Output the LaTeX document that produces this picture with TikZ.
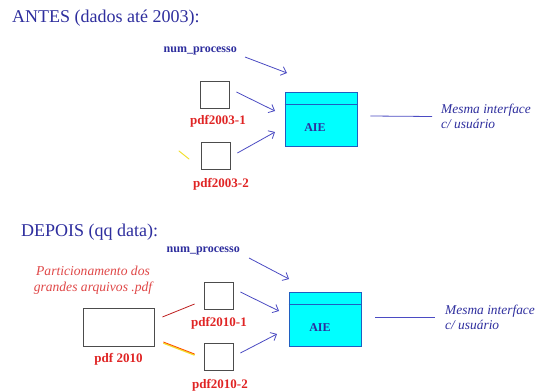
\documentclass[tikz,border=0pt]{standalone}
\usepackage{fontspec}
\setmainfont{Liberation Serif}
\usetikzlibrary{arrows.meta,calc}
\definecolor{ttl}{HTML}{2E2E9E}
\definecolor{arr}{HTML}{4B4BC3}
\definecolor{lbl}{HTML}{E02424}
\definecolor{redtxt}{HTML}{E04848}
\definecolor{aie}{HTML}{00FFFF}
\definecolor{aieline}{HTML}{1F5FC0}
\definecolor{hl}{HTML}{F2E030}
\begin{document}
\begin{tikzpicture}[x=1pt,y=-1pt,
  title/.style={font=\fontsize{18}{20}\selectfont, text=ttl, anchor=west, inner sep=0},
  proc/.style={font=\fontsize{12}{13}\selectfont\bfseries, text=ttl, inner sep=0},
  doc/.style={draw=black!70, line width=0.8pt, fill=white, minimum width=29pt, minimum height=27pt, inner sep=0},
  doclbl/.style={font=\fontsize{13}{14}\selectfont\bfseries, text=lbl, inner sep=0},
  flow/.style={draw=arr, line width=0.8pt, -{Straight Barb[length=5pt,width=9pt]}},
  link/.style={draw=arr, line width=0.8pt},
  aiebox/.style={draw=aieline, line width=0.9pt, fill=aie, minimum width=72pt, minimum height=54pt, inner sep=0},
  aietxt/.style={font=\fontsize{12}{13}\selectfont\bfseries, text=ttl, inner sep=0},
  note/.style={font=\fontsize{13.4}{15}\selectfont\itshape, text=ttl, align=left, anchor=west, inner sep=0},
  split/.style={draw=lbl!85!black, line width=0.8pt},
]
\useasboundingbox (0,0) rectangle (539,391);
\fill[white] (0,0) rectangle (539,391);

% ---------- before ----------
\node[title] (t1) at (12,18) {ANTES (dados até 2003):};
\node[proc, anchor=east] (np1) at (237,51) {num\_processo};
\node[doc] (a1) at (214.5,94.5) {};
\node[doclbl] (a1l) at (218,121) {pdf2003-1};
\node[doc] (a2) at (215.5,156) {};
\node[doclbl] (a2l) at (221,184) {pdf2003-2};
\node[aiebox] (aie1) at (321,119) {};
\draw[aieline, line width=0.9pt] ($(aie1.north west)+(0,13)$) -- ($(aie1.north east)+(0,13)$);
\node[aietxt] (aie1t) at (315,128) {AIE};
\node[note] (n1) at (441,116.5) {Mesma interface\\c/ usuário};

\coordinate (e1a) at (287,73);
\coordinate (e1b) at (275,111);
\coordinate (e1c) at (275,132);
\draw[flow] ($(np1.east)+(8,6)$) -- (e1a);
\draw[flow] ($(a1.east)+(7,-2.5)$) -- (e1b);
\draw[flow] ($(a2.east)+(7,-3)$) -- (e1c);
\draw[link] ($(aie1.east)+(13,-3)$) -- ($(n1.west)+(-9,0)$);
\draw[hl, line width=1pt, line cap=round] (179,151) -- (189,159);

% ---------- after ----------
\node[title] (t2) at (21,232) {DEPOIS (qq data):};
\node[proc, anchor=east] (np2) at (240,251) {num\_processo};
\node[font=\fontsize{13.6}{16}\selectfont\itshape, text=redtxt, align=center, inner sep=0] (part) at (93,280) {Particionamento dos\\grandes arquivos .pdf};
\node[doc, minimum width=71pt, minimum height=38pt] (big) at (118.5,327) {};
\node[doclbl] (bigl) at (118.5,359) {pdf 2010};
\node[doc] (b1) at (219,296) {};
\node[doclbl] (b1l) at (219,323) {pdf2010-1};
\node[doc] (b2) at (219,357) {};
\node[doclbl] (b2l) at (220,385) {pdf2010-2};
\node[aiebox] (aie2) at (325,319.5) {};
\draw[aieline, line width=0.9pt] ($(aie2.north west)+(0,12)$) -- ($(aie2.north east)+(0,12)$);
\node[aietxt] (aie2t) at (320,328) {AIE};
\node[note] (n2) at (445,317) {Mesma interface\\c/ usuário};

\draw[split] ($(big.east)+(8,-10)$) -- ($(b1.west)+(-9.5,8)$);
\draw[hl, line width=1.6pt] ($(big.east)+(9,16)$) -- ($(b2.west)+(-9.5,-2)$);
\draw[split, draw=orange!60!red] ($(big.east)+(9,15)$) -- ($(b2.west)+(-9.5,-3)$);

\coordinate (e2a) at (289,279);
\coordinate (e2b) at (279,311);
\coordinate (e2c) at (277,334);
\draw[flow] ($(np2.east)+(9,7)$) -- (e2a);
\draw[flow] ($(b1.east)+(6.5,-4)$) -- (e2b);
\draw[flow] ($(b2.east)+(6.5,-4)$) -- (e2c);
\draw[link] ($(aie2.east)+(14,-2.5)$) -- ($(n2.west)+(-10,0)$);
\end{tikzpicture}
\end{document}
